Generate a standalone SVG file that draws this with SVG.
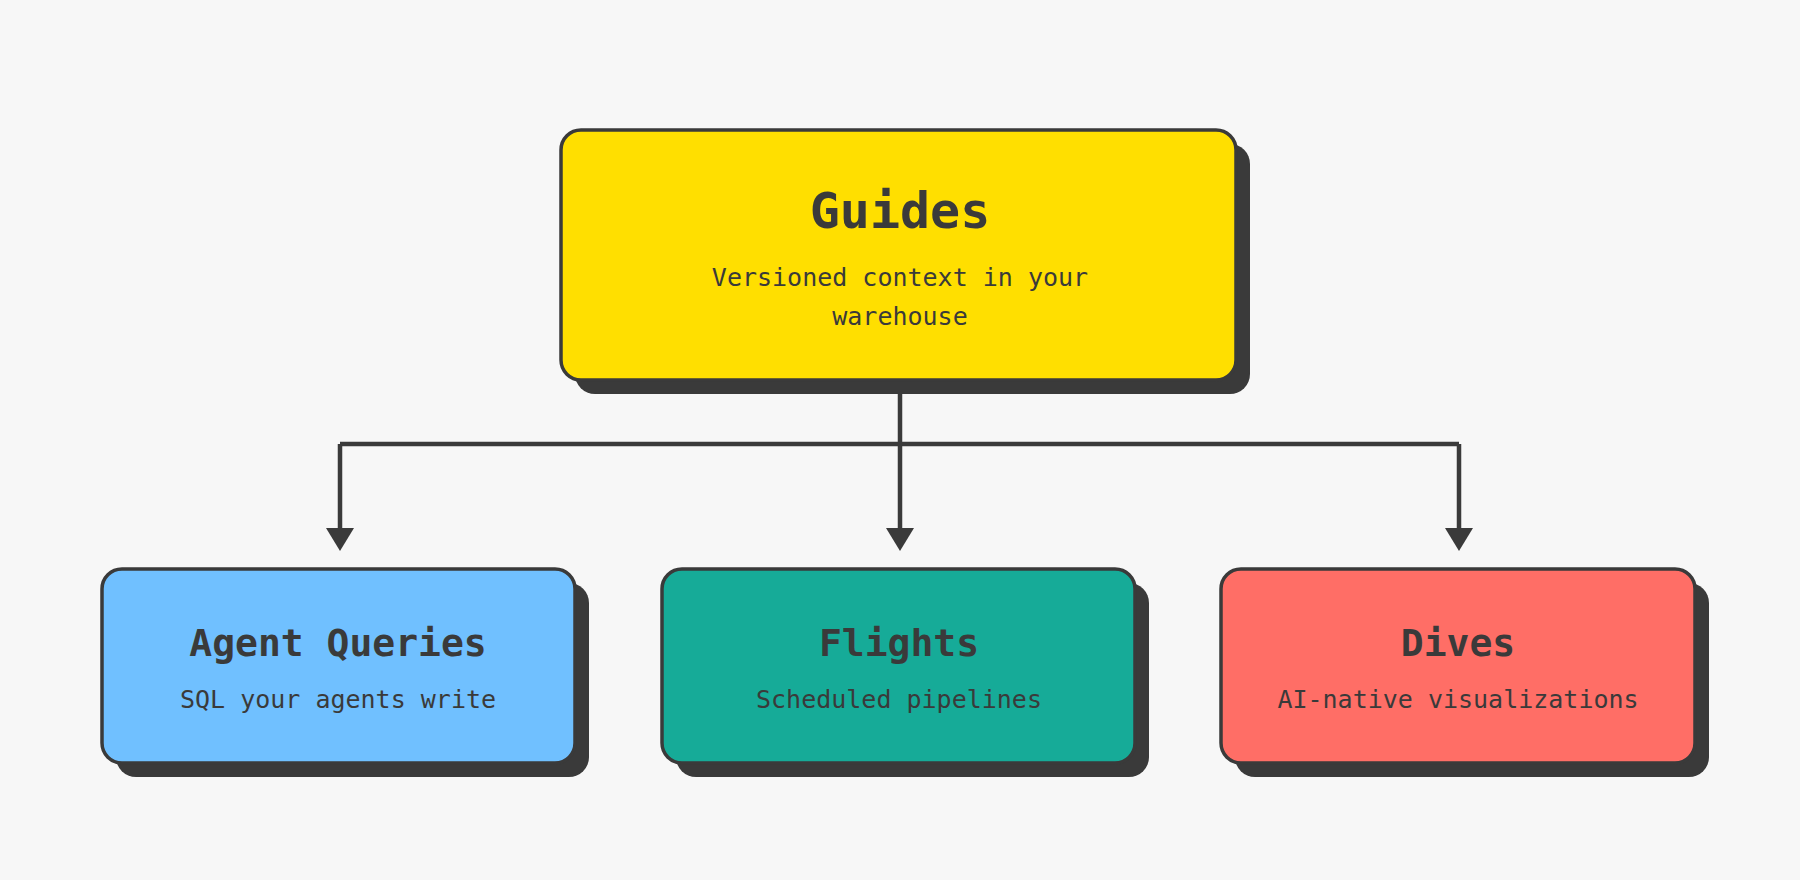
<svg xmlns="http://www.w3.org/2000/svg" width="1800" height="880" viewBox="0 0 1800 880">
<defs>
<style>
.sh{fill:#3a3a3a}
.bx{stroke:#3a3a3a;stroke-width:3.5}
.t{font-family:"DejaVu Sans Mono",monospace;font-weight:bold;fill:#3a3a3a;text-anchor:middle}
.s{font-family:"DejaVu Sans Mono",monospace;fill:#3a3a3a;text-anchor:middle;font-size:25px}
.ln{fill:none;stroke:#3a3a3a;stroke-width:4.5}
</style>
<marker id="ar" viewBox="0 0 10 10" refX="5" refY="10" markerWidth="6" markerHeight="6" markerUnits="userSpaceOnUse" orient="auto-start-reverse">
</marker>
</defs>
<rect width="1800" height="880" fill="#f7f7f7"/>
<g id="connectors">
<path class="ln" d="M900 380 V444 M340 444 H1459 M340 444 V530 M900 444 V530 M1459 444 V530"/>
<polygon fill="#3a3a3a" points="326,528 354,528 340,551"/>
<polygon fill="#3a3a3a" points="886,528 914,528 900,551"/>
<polygon fill="#3a3a3a" points="1445,528 1473,528 1459,551"/>
</g>
<g id="guides">
<rect class="sh" x="575" y="144" width="675" height="250" rx="20"/>
<rect class="bx" x="561" y="130" width="675" height="250" rx="20" fill="#ffdf00"/>
<text class="t" x="900" y="228" font-size="50">Guides</text>
<text class="s" x="900" y="286">Versioned context in your</text>
<text class="s" x="900" y="325">warehouse</text>
</g>
<g id="agent-queries">
<rect class="sh" x="116" y="583" width="473" height="194" rx="20"/>
<rect class="bx" x="102" y="569" width="473" height="194" rx="20" fill="#70c0ff"/>
<text class="t" x="338" y="656" font-size="38">Agent Queries</text>
<text class="s" x="338" y="708">SQL your agents write</text>
</g>
<g id="flights">
<rect class="sh" x="676" y="583" width="473" height="194" rx="20"/>
<rect class="bx" x="662" y="569" width="473" height="194" rx="20" fill="#16ab98"/>
<text class="t" x="899" y="656" font-size="38">Flights</text>
<text class="s" x="899" y="708">Scheduled pipelines</text>
</g>
<g id="dives">
<rect class="sh" x="1235" y="583" width="474" height="194" rx="20"/>
<rect class="bx" x="1221" y="569" width="474" height="194" rx="20" fill="#ff6e66"/>
<text class="t" x="1458" y="656" font-size="38">Dives</text>
<text class="s" x="1458" y="708">AI-native visualizations</text>
</g>
</svg>
